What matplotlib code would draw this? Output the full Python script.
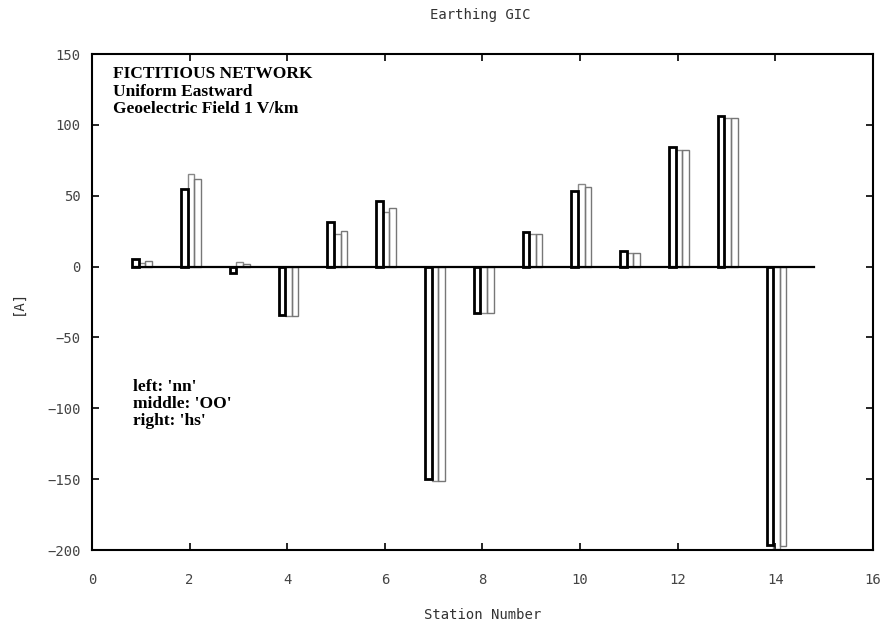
import matplotlib.pyplot as plt
import numpy as np

# GIC per station, three models
stations = np.arange(1, 15)
gic_nn = [5, 54.8, -4.5, -34.5, 31.5, 46, -150, -33, 24.5, 53, 11.3, 84.4, 106, -196.8]
gic_oo = [2.5, 65.6, 3.5, -35, 23.3, 38.3, -151, -33, 23, 58.5, 9.6, 82.5, 104.6, -199]
gic_hs = [3.8, 61.8, 1.5, -35, 24.9, 41.4, -151, -33, 23, 56.4, 9.6, 82.5, 104.6, -197.5]

mono = 'DejaVu Sans Mono'
fig = plt.figure(figsize=(8.82, 6.25), dpi=100)
ax = fig.add_axes([0.1043, 0.12, 0.8855, 0.7936])

w = 0.135
ax.plot([stations[0] - 0.17, stations[-1] + 0.8], [0, 0], color='black', lw=1.6, zorder=3)
ax.bar(stations - 0.11, gic_nn, width=w, fill=False, edgecolor='black', linewidth=2.0, zorder=4)
ax.bar(stations + 0.025, gic_oo, width=w, fill=False, edgecolor='#888888', linewidth=1.0, zorder=2)
ax.bar(stations + 0.16, gic_hs, width=w, fill=False, edgecolor='#777777', linewidth=1.0, zorder=2)

ax.set_xlim(0, 16)
ax.set_ylim(-200, 150)
ax.set_xticks(np.arange(0, 17, 2))
ax.set_yticks(np.arange(-200, 151, 50))
ax.tick_params(direction='in', top=True, right=True, length=5, width=1.2,
               labelsize=10, labelcolor='#444444')
ax.tick_params(axis='x', pad=16.5)
ax.tick_params(axis='y', pad=8)
for lab in ax.get_xticklabels() + ax.get_yticklabels():
    lab.set_family(mono)
for s in ax.spines.values():
    s.set_linewidth(1.5)

ax.set_xlabel('Station Number', family=mono, fontsize=10, color='#333333', labelpad=15.5)
ax.set_ylabel('[A]', family=mono, fontsize=10, color='#333333', labelpad=16)
fig.text(0.545, 0.976, 'Earthing GIC', family=mono, fontsize=10, color='#333333',
         ha='center', va='center')

ax.text(0.027, 0.975, 'FICTITIOUS NETWORK\nUniform Eastward\nGeoelectric Field 1 V/km',
        transform=ax.transAxes, family='Liberation Serif', fontweight='bold',
        fontsize=12.5, va='top', ha='left', linespacing=1.1)
ax.text(0.0525, 0.345, "left: 'nn'\nmiddle: 'OO'\nright: 'hs'",
        transform=ax.transAxes, family='Liberation Serif', fontweight='bold',
        fontsize=12.5, va='top', ha='left', linespacing=1.1)

plt.savefig('out.png', dpi=100)
